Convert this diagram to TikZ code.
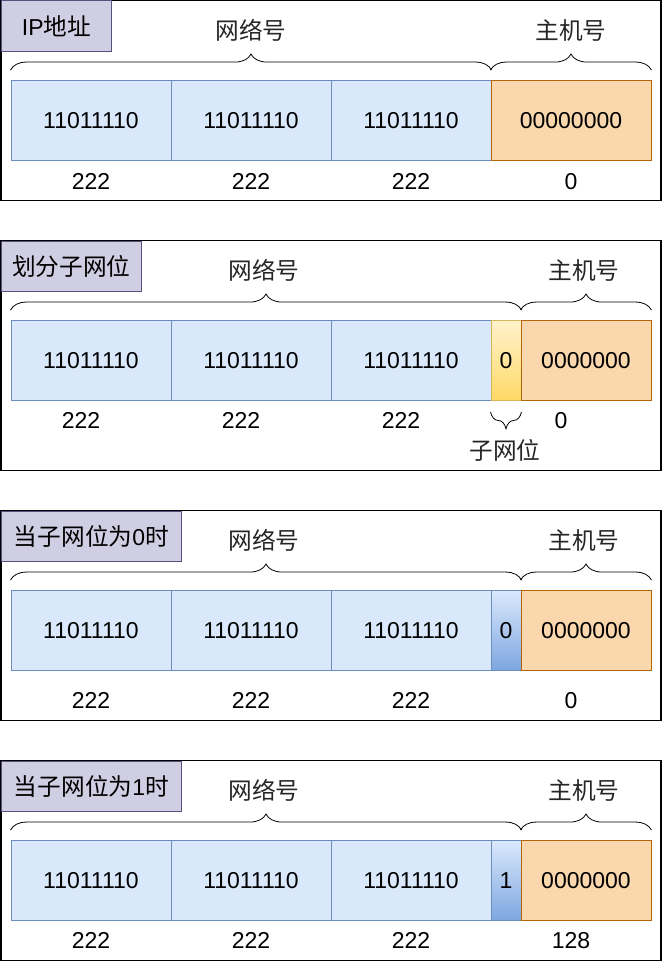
\documentclass[tikz,border=0pt]{standalone}
\usepackage{fontspec}
\setmainfont{Liberation Sans}
\newfontfamily\cjk[Scale=1.03]{Noto Sans CJK SC}
\usetikzlibrary{decorations.pathreplacing}
\definecolor{netfill}{HTML}{DAE8FC}
\definecolor{netline}{HTML}{6C8EBF}
\definecolor{netdeep}{HTML}{7EA6E0}
\definecolor{hostfill}{HTML}{FAD7AC}
\definecolor{hostline}{HTML}{B46504}
\definecolor{bitlight}{HTML}{FFF2CC}
\definecolor{bitdeep}{HTML}{FFD966}
\definecolor{bitline}{HTML}{D6B656}
\definecolor{titlefill}{HTML}{D0CEE2}
\definecolor{titleline}{HTML}{56517E}
\tikzset{
  txt/.style={font=\fontsize{23}{27}\selectfont},
  cell/.style={txt,draw=netline,fill=netfill,line width=0.9pt,minimum height=80pt,inner sep=0pt},
  net/.style={cell,minimum width=160pt},
  host/.style={cell,draw=hostline,fill=hostfill,minimum width=130pt},
  bitcell/.style={cell,minimum width=30pt},
  frame/.style={draw,line width=1.3pt},
  titlebox/.style={txt,draw=titleline,fill=titlefill,line width=0.9pt,inner sep=0pt,anchor=north west},
  lbl/.style={txt,text=black!85},
  curly/.style={draw,line width=0.8pt,decorate,decoration={brace,amplitude=16pt}},
}
\begin{document}
\begin{tikzpicture}[x=1pt,y=-1pt]
\useasboundingbox (-1,-0.5) rectangle (661,960.5);
% IP address
\draw[frame] (0,0) rectangle (660,200);
\node (t1) [titlebox,minimum width=110pt,minimum height=50pt] at (0,0) {IP{\cjk 地址}};
\node (n11) [net] at (90,120) {11011110};
\node (n12) [net] at (250,120) {11011110};
\node (n13) [net] at (410,120) {11011110};
\node (h1) [host,minimum width=160pt] at (570,120) {00000000};
\draw[curly] ([yshift=10pt]n11.north west) -- ([yshift=10pt]n13.north east);
\draw[curly] ([yshift=10pt]h1.north west) -- ([yshift=10pt]h1.north east);
\node (l11) [lbl] at (250,30) {\cjk 网络号};
\node (l12) [lbl] at (570,30) {\cjk 主机号};
\node (d11) [txt] at (90,181) {222};
\node (d12) [txt] at (250,181) {222};
\node (d13) [txt] at (410,181) {222};
\node (d14) [txt] at (570,181) {0};
% subnet bit
\draw[frame] (0,240) rectangle (660,470);
\node (t2) [titlebox,minimum width=140pt,minimum height=50pt] at (0,240) {\cjk 划分子网位};
\node (n21) [net] at (90,360) {11011110};
\node (n22) [net] at (250,360) {11011110};
\node (n23) [net] at (410,360) {11011110};
\node (b2) [bitcell,draw=bitline,top color=bitlight,bottom color=bitdeep] at (505,360) {0};
\node (h2) [host] at (585,360) {0000000};
\draw[curly] ([yshift=10pt]n21.north west) -- ([yshift=10pt]b2.north east);
\draw[curly] ([yshift=10pt]h2.north west) -- ([yshift=10pt]h2.north east);
\draw[curly,decoration={amplitude=17pt}] ([yshift=-11pt]b2.south east) -- ([yshift=-11pt]b2.south west);
\node (l21) [lbl] at (263,270) {\cjk 网络号};
\node (l22) [lbl] at (583,270) {\cjk 主机号};
\node (l23) [lbl] at (504,450) {\cjk 子网位};
\node (d21) [txt] at (80,420) {222};
\node (d22) [txt] at (240,420) {222};
\node (d23) [txt] at (400,420) {222};
\node (d24) [txt] at (560,420) {0};
% bit = 0
\draw[frame] (0,510) rectangle (660,720);
\node (t3) [titlebox,minimum width=180pt,minimum height=50pt] at (0,510) {{\cjk 当子网位为}0{\cjk 时}};
\node (n31) [net] at (90,630) {11011110};
\node (n32) [net] at (250,630) {11011110};
\node (n33) [net] at (410,630) {11011110};
\node (b3) [bitcell,top color=netfill,bottom color=netdeep] at (505,630) {0};
\node (h3) [host] at (585,630) {0000000};
\draw[curly] ([yshift=10pt]n31.north west) -- ([yshift=10pt]b3.north east);
\draw[curly] ([yshift=10pt]h3.north west) -- ([yshift=10pt]h3.north east);
\node (l31) [lbl] at (263,540) {\cjk 网络号};
\node (l32) [lbl] at (583,540) {\cjk 主机号};
\node (d31) [txt] at (90,700) {222};
\node (d32) [txt] at (250,700) {222};
\node (d33) [txt] at (410,700) {222};
\node (d34) [txt] at (570,700) {0};
% bit = 1
\draw[frame] (0,760) rectangle (660,960);
\node (t4) [titlebox,minimum width=180pt,minimum height=50pt] at (0,760) {{\cjk 当子网位为}1{\cjk 时}};
\node (n41) [net] at (90,880) {11011110};
\node (n42) [net] at (250,880) {11011110};
\node (n43) [net] at (410,880) {11011110};
\node (b4) [bitcell,top color=netfill,bottom color=netdeep] at (505,880) {1};
\node (h4) [host] at (585,880) {0000000};
\draw[curly] ([yshift=10pt]n41.north west) -- ([yshift=10pt]b4.north east);
\draw[curly] ([yshift=10pt]h4.north west) -- ([yshift=10pt]h4.north east);
\node (l41) [lbl] at (263,790) {\cjk 网络号};
\node (l42) [lbl] at (583,790) {\cjk 主机号};
\node (d41) [txt] at (90,940) {222};
\node (d42) [txt] at (250,940) {222};
\node (d43) [txt] at (410,940) {222};
\node (d44) [txt] at (570,940) {128};
\end{tikzpicture}
\end{document}
